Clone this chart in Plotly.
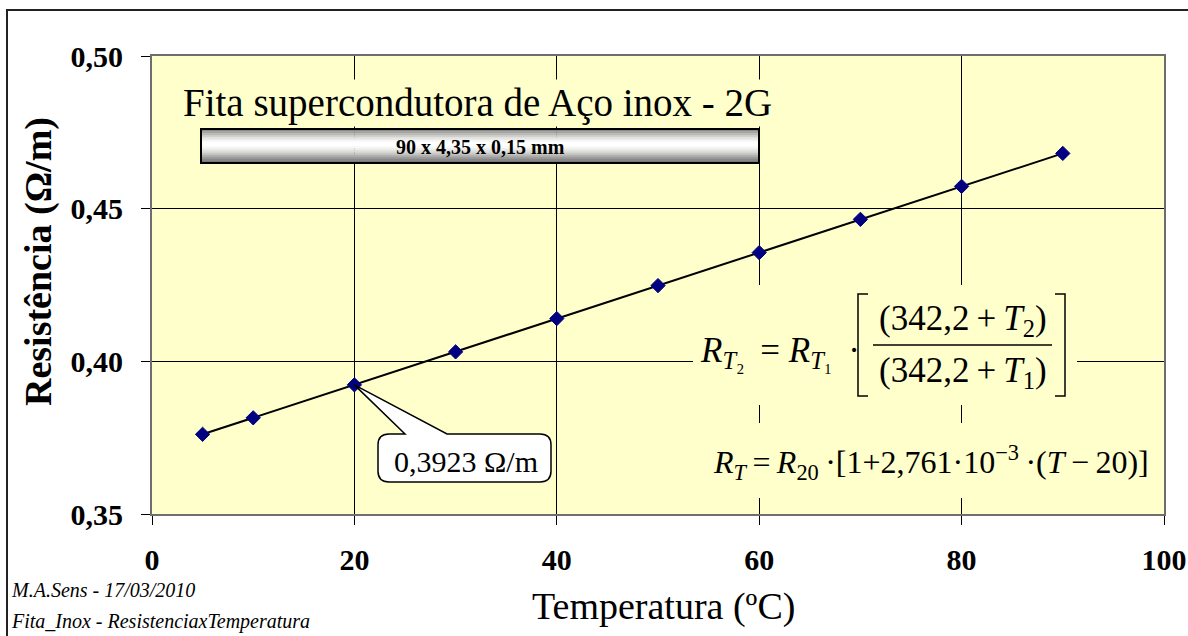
import plotly.graph_objects as go

# ---- data ----
temperatura = [5, 10, 20, 30, 40, 50, 60, 70, 80, 90]
resistencia = [0.3761, 0.3815, 0.3923, 0.4031, 0.4140, 0.4248, 0.4356, 0.4465, 0.4573, 0.4681]
x_ticks = [0, 20, 40, 60, 80, 100]
y_ticks = [0.35, 0.40, 0.45, 0.50]
callout_point = (20, 0.3923)

W, H = 1188, 636
L, R, T, B = 152, 24, 56, 122
PW, PH = W - L - R, H - T - B
SERIF = "Liberation Serif, Times New Roman, serif"
BG = "#FFFFCC"


def px(x):
    return (x - L) / PW


def py(y):
    return (H - B - y) / PH


def note(x, y, text, size, xanchor="center", **kw):
    return dict(xref="paper", yref="paper", x=px(x), y=py(y), xanchor=xanchor, yanchor="middle",
                text=text, showarrow=False, font=dict(family=SERIF, size=size, color="black"), **kw)


fig = go.Figure()
fig.add_trace(go.Scatter(
    x=temperatura, y=resistencia, mode="lines+markers",
    line=dict(color="black", width=2),
    marker=dict(symbol="diamond", size=11, color="#000080", line=dict(color="#000080", width=1)),
    showlegend=False, hoverinfo="x+y"))

shapes = []
ann = []

# outer chart border
shapes.append(dict(type="rect", xref="paper", yref="paper", x0=px(7), x1=px(1195), y0=py(645), y1=py(10),
                   line=dict(color="#222", width=2), fillcolor="rgba(0,0,0,0)", layer="below"))

# steel tape bar with gradient
bx0, bx1, by0, by1 = 201, 759, 129, 163
grad = ["#8a8a8a", "#a0a0a0", "#b8b8b8", "#d0d0d0", "#e6e6e6", "#f6f6f6", "#ffffff", "#ffffff",
        "#f8f8f8", "#ececec", "#dcdcdc", "#c8c8c8", "#b2b2b2", "#9c9c9c", "#888888", "#787878"]
n = len(grad)
for i, c in enumerate(grad):
    ya = by0 + (by1 - by0) * i / n
    yb = by0 + (by1 - by0) * (i + 1) / n
    shapes.append(dict(type="rect", xref="paper", yref="paper", x0=px(bx0), x1=px(bx1), y0=py(yb + 0.3), y1=py(ya),
                       line=dict(width=0), fillcolor=c, layer="above"))
shapes.append(dict(type="rect", xref="paper", yref="paper", x0=px(bx0), x1=px(bx1), y0=py(by1), y1=py(by0),
                   line=dict(color="black", width=2), fillcolor="rgba(0,0,0,0)", layer="above"))
ann.append(note((bx0 + bx1) / 2, (by0 + by1) / 2 + 1, "<b>90 x 4,35 x 0,15 mm</b>", 20))

# title text
ann.append(note(181, 103, "Fita supercondutora de Aço inox - 2G", 39, xanchor="left", bgcolor=BG, borderpad=1))


# callout (data coordinates)
def dx(p):
    return (p - L) / PW * 100


def dy(p):
    return 0.35 + (H - B - p) / PH * 0.15


cx0, cx1, cy0, cy1, r = 378, 551, 434, 482, 11
ax, ay = callout_point
pts = ("M {a},{b} L {c},{b} L {ax},{ay} L {d},{b} L {e},{b} Q {f},{b} {f},{g} L {f},{h} Q {f},{i} {e},{i} "
       "L {a},{i} Q {j},{i} {j},{h} L {j},{g} Q {j},{b} {a},{b} Z").format(
    a=dx(cx0 + r), b=dy(cy0), c=dx(405), ax=ax, ay=ay, d=dx(447), e=dx(cx1 - r), f=dx(cx1), g=dy(cy0 + r),
    h=dy(cy1 - r), i=dy(cy1), j=dx(cx0))
shapes.append(dict(type="path", xref="x", yref="y", path=pts, fillcolor="white",
                   line=dict(color="black", width=1.5), layer="above"))
ann.append(note((cx0 + cx1) / 2 + 1, 461, "0,3923 Ω/m", 30))

# equation backgrounds (hide gridlines)
shapes.append(dict(type="rect", xref="paper", yref="paper", x0=px(693), x1=px(1077), y0=py(405), y1=py(285),
                   line=dict(width=0), fillcolor=BG, layer="above"))
shapes.append(dict(type="rect", xref="paper", yref="paper", x0=px(700), x1=px(1150), y0=py(498), y1=py(423),
                   line=dict(width=0), fillcolor=BG, layer="above"))
EQ = 35
TS = "\u2009"
ann.append(note(698, 352, "<i>R</i><sub><i>T</i>₂</sub>" + TS + " = <i>R</i><sub><i>T</i>₁</sub>" + TS + " ·",
                EQ, xanchor="left"))
ann.append(note(963, 320, "(342,2" + TS + "+" + TS + "<i>T</i><sub>2</sub>)", EQ))
ann.append(note(963, 372, "(342,2" + TS + "+" + TS + "<i>T</i><sub>1</sub>)", EQ))
shapes.append(dict(type="line", xref="paper", yref="paper", x0=px(873), x1=px(1052), y0=py(345), y1=py(345),
                   line=dict(color="black", width=1.5), layer="above"))
# brackets eq1
for xa, xb in ((868, 858), (1055, 1065)):
    shapes.append(dict(type="path", xref="paper", yref="paper",
                       path="M {0},{1} L {2},{1} L {2},{3} L {0},{3}".format(px(xa), py(294), px(xb), py(396)),
                       line=dict(color="black", width=1.5), layer="above"))

# equation 2
ann.append(note(711, 462,
                "<i>R</i><sub><i>T</i></sub>" + TS + "=" + TS + "<i>R</i><sub>20</sub>" + TS + "·" +
                "[1+2,761·10<sup>−3</sup>" + TS + "·" + "(<i>T</i>" + TS + "−" + TS + "20)]",
                32, xanchor="left"))

# axis titles
ann.append(note(38, 262, "<b>Resistência (Ω/m)</b>", 38, textangle=-90))
ann.append(note(663, 606, "Temperatura (ºC)", 38))

# footnotes
ann.append(note(9, 590, "<i>M.A.Sens - 17/03/2010</i>", 20, xanchor="left"))
ann.append(note(9, 621, "<i>Fita_Inox - ResistenciaxTemperatura</i>", 20, xanchor="left"))

tickfont = dict(family=SERIF, size=30, color="black", weight="bold")
fig.update_layout(
    width=W, height=H, margin=dict(l=L, r=R, t=T, b=B, autoexpand=False),
    paper_bgcolor="white", plot_bgcolor=BG, separators=",.",
    shapes=shapes, annotations=ann, showlegend=False,
    xaxis=dict(range=[0, 100], tickvals=x_ticks, ticks="outside", ticklen=9, tickcolor="black",
               showgrid=True, gridcolor="black", gridwidth=1, zeroline=False, automargin=False,
               showline=True, linecolor="#6e6e6e", linewidth=2, mirror=True,
               tickfont=tickfont, ticklabelstandoff=9),
    yaxis=dict(range=[0.35, 0.50], tickvals=y_ticks, tickformat=".2f", ticks="outside", ticklen=9, tickcolor="black",
               showgrid=True, gridcolor="black", gridwidth=1, zeroline=False, automargin=False,
               showline=True, linecolor="#6e6e6e", linewidth=2, mirror=True,
               tickfont=tickfont, ticklabelstandoff=12),
)

fig.write_html("out.html", config={"displayModeBar": False, "responsive": False},
               post_script="document.body.style.margin='0';document.body.style.overflow='hidden';")
